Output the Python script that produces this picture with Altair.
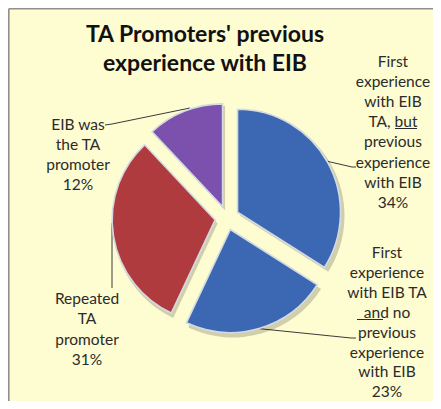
import altair as alt
import pandas as pd

# ---------------- data ----------------
categories = [
    "First experience with EIB TA, but previous experience with EIB",
    "First experience with EIB TA and no previous experience with EIB",
    "Repeated TA promoter",
    "EIB was the TA promoter",
]
shares = [34, 23, 31, 12]
slice_colors = ["#3c67b2", "#3c67b2", "#b03b3f", "#7c51ae"]
label_lines = [
    ["First", "experience", "with EIB", "TA, but", "previous", "experience", "with EIB"],
    ["First", "experience", "with EIB TA", "and no", "previous", "experience", "with EIB"],
    ["Repeated", "TA", "promoter"],
    ["EIB was", "the TA", "promoter"],
]
title_lines = ["TA Promoters' previous", "experience with EIB"]

# ---------------- layout (view px) ----------------
W, H = 425, 393
CX, CY, R, D = 219, 210, 103, 12
# x of centre, y of first line, line height
label_pos = [(385, 54, 20.1), (379, 245, 19.9), (79, 291, 20.3), (70, 117, 20)]
leaders = [  # x, y, x2, y2
    (318, 153, 344, 159), (344, 159, 348, 159),
    (245, 320, 343, 330), (343, 330, 348, 330),
    (104, 215, 104, 280),
    (97, 117, 104, 116), (104, 116, 182, 100),
]
underlines = [(387, 120.5, 409, 120.5), (349, 311.5, 375, 311.5)]

FONT = "Lato"
TXT = "#2b2b2b"
LEAD = "#3a3a3a"

pie_df = pd.DataFrame({"cat": categories, "share": shares, "order": range(len(shares))})


def pie_base(dx=0.0, dy=0.0):
    return (
        alt.Chart(pie_df)
        .transform_joinaggregate(total="sum(share)")
        .transform_window(cum="sum(share)", sort=[alt.SortField("order")], frame=[None, 0])
        .transform_calculate(a0="2*PI*(datum.cum-datum.share)/datum.total",
                             a1="2*PI*datum.cum/datum.total")
        .transform_calculate(mid="(datum.a0+datum.a1)/2")
        .transform_calculate(px=f"{CX + dx}+{D}*sin(datum.mid)",
                             py=f"{CY + dy}-{D}*cos(datum.mid)")
    )


enc = dict(
    theta=alt.Theta("a0:Q", scale=None, stack=None),
    theta2=alt.Theta2("a1:Q"),
    x=alt.X("px:Q", scale=None, axis=None),
    y=alt.Y("py:Q", scale=None, axis=None),
)

shadow = pie_base(2.5, 3.5).mark_arc(outerRadius=R + 1.5, color="#000000", opacity=0.18).encode(**enc)
slices = pie_base().mark_arc(outerRadius=R, stroke="#d3dae2", strokeWidth=1.6).encode(
    color=alt.Color("cat:N", scale=alt.Scale(domain=categories, range=slice_colors), legend=None),
    **enc,
)

lab_df = pd.DataFrame({
    "text": [lines + [f"{v}%"] for lines, v in zip(label_lines, shares)],
    "lx": [p[0] for p in label_pos],
    "ly": [p[1] for p in label_pos],
    "lh": [p[2] for p in label_pos],
})
labels = alt.layer(*[
    alt.Chart(lab_df.iloc[[i]]).mark_text(font=FONT, fontSize=15.5, color=TXT, align="center",
                                         baseline="middle", lineHeight=float(lab_df.lh[i])).encode(
        x=alt.X("lx:Q", scale=None, axis=None), y=alt.Y("ly:Q", scale=None, axis=None), text="text")
    for i in range(len(lab_df))
])


def seg_layer(rows, color):
    df = pd.DataFrame(rows, columns=["x", "y", "x2", "y2"])
    return alt.Chart(df).mark_rule(strokeWidth=1, color=color).encode(
        x=alt.X("x:Q", scale=None, axis=None), y=alt.Y("y:Q", scale=None, axis=None),
        x2="x2:Q", y2="y2:Q")


leads = seg_layer(leaders, LEAD)
ul = seg_layer(underlines, TXT)

title_df = pd.DataFrame({"t": [title_lines]})
title = alt.Chart(title_df).mark_text(font=FONT, fontSize=23, fontWeight="bold", color="#111111",
                                      align="center", baseline="alphabetic", lineHeight=29).encode(
    x=alt.value(197), y=alt.value(34), text="t")

border = alt.Chart(pd.DataFrame({"a": [0]})).mark_rule(color="#8f8f8f", strokeWidth=1.6).encode(
    x=alt.value(0.8), x2=alt.value(0.8), y=alt.value(0.8), y2=alt.value(H))
border_top = alt.Chart(pd.DataFrame({"a": [0]})).mark_rule(color="#8f8f8f", strokeWidth=1.6).encode(
    x=alt.value(0.8), x2=alt.value(W), y=alt.value(0.8), y2=alt.value(0.8))

chart = alt.layer(leads, shadow, slices, ul, labels, title, border, border_top).properties(
    width=W, height=H, background="#fefcd1", padding=0, autosize=alt.AutoSizeParams(type="none")
).configure_view(stroke=None)

chart.save("out.html", embed_options={"renderer": "svg", "actions": False})
